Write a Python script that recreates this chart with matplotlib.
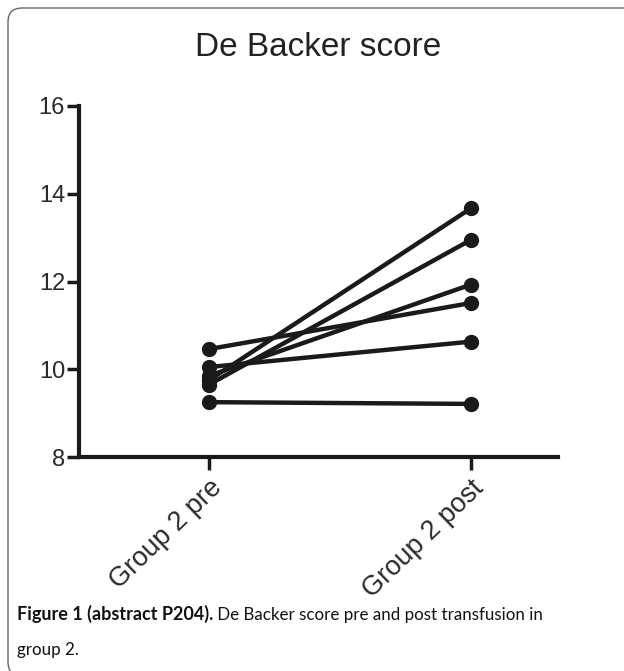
import matplotlib
matplotlib.use("Agg")
import numpy as np
import matplotlib.pyplot as plt
from matplotlib.patches import FancyBboxPatch

# data
groups = ['Group 2 pre', 'Group 2 post']
pre = [9.75, 9.65, 9.85, 10.46, 10.05, 9.25]
post = [13.67, 12.95, 11.93, 11.51, 10.63, 9.21]
yticks = [8, 10, 12, 14, 16]
title = 'De Backer score'
cap_bold = 'Figure 1 (abstract P204).'
cap_text = ' De Backer score pre and post transfusion in'
cap_line2 = 'group 2.'

W, H = 624, 671
fig = plt.figure(figsize=(W / 100, H / 100), dpi=100)
ax = fig.add_axes([79 / W, 1 - 457 / H, (558 - 79) / W, (457 - 106) / H])

xs = np.arange(len(groups))
for a, b in zip(pre, post):
    ax.plot(xs, [a, b], '-o', color='#1a1a1a', lw=3.2, ms=10,
            solid_capstyle='round', zorder=3, clip_on=False)

ax.set_xlim(-0.496, 1.332)
ax.set_ylim(8, 16)
ax.set_yticks(yticks)
ax.set_xticks(xs)
ax.set_xticklabels(groups, rotation=44, ha='right', rotation_mode='anchor')
for s in ['top', 'right']:
    ax.spines[s].set_visible(False)
for s in ['left', 'bottom']:
    ax.spines[s].set_linewidth(3)
    ax.spines[s].set_color('#1a1a1a')
ax.tick_params(axis='both', width=2.5, length=9, color='#1a1a1a',
               labelcolor='#2a2a2a', pad=1)
ax.tick_params(axis='y', labelsize=17)
ax.tick_params(axis='x', labelsize=19.5, pad=4)
for lab in ax.get_xticklabels() + ax.get_yticklabels():
    lab.set_family('Liberation Sans')

fig.text(318 / W, 1 - 48 / H, title, ha='center', va='center',
         fontsize=24, family='Liberation Sans', color='#222222')

# caption
t1 = fig.text(17 / W, 1 - 620 / H, cap_bold, fontsize=13, family='Lato',
              weight='bold', color='#111111', va='baseline')
ax.annotate(cap_text, xy=(1, 0), xycoords=t1, va='bottom', fontsize=12.2,
            family='Lato', color='#111111', annotation_clip=False)
fig.text(17 / W, 1 - 655 / H, cap_line2, fontsize=12.2, family='Lato',
         color='#111111', va='baseline')

# rounded frame
box = FancyBboxPatch((0.08, -0.05), 6.6, 6.63 + 0.05,
                     boxstyle='round,pad=0,rounding_size=0.14',
                     transform=fig.dpi_scale_trans, fill=False,
                     edgecolor='#666666', lw=1.0)
fig.patches.append(box)

plt.savefig('out.png', dpi=100, facecolor='white')
